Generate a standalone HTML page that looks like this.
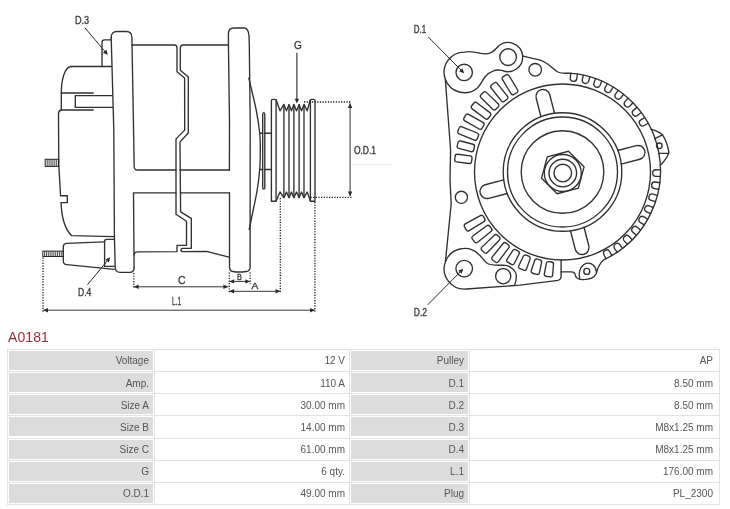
<!DOCTYPE html>
<html><head><meta charset="utf-8">
<style>
html,body{margin:0;padding:0;background:#fff;}
body{width:730px;height:509px;position:relative;overflow:hidden;font-family:"Liberation Sans",sans-serif;}
svg{position:absolute;left:0;top:0;will-change:transform;}
.wc{will-change:transform;}
.title{position:absolute;left:8px;top:329px;font-size:14px;color:#93303f;letter-spacing:0.1px;}
.g{position:absolute;background:#dcdcdc;}
.hl{position:absolute;height:1px;background:#e2e2e2;}
.vl{position:absolute;width:1px;background:#e2e2e2;}
.t{position:absolute;font-size:10px;line-height:19px;color:#555;white-space:nowrap;}
</style></head><body>
<svg width="730" height="509" viewBox="0 0 730 509">
<path d="M111.2,66.5 L70.6,66.5 C64.5,67.5 61.3,80 61.3,93 L93.2,93" fill="none" stroke="#303030" stroke-width="1.35" stroke-linejoin="round" stroke-linecap="round" />
<path d="M61.3,93 L61.3,110 L93.2,110" fill="none" stroke="#303030" stroke-width="1.35" stroke-linejoin="round" stroke-linecap="round" />
<path d="M112,95.6 L75.3,95.6 L75.3,107.4 L112.5,107.4" fill="none" stroke="#303030" stroke-width="1.35" stroke-linejoin="round" stroke-linecap="round" />
<path d="M61.3,110 Q58.6,110.5 58.5,113.5 L58.8,165 L60.4,193 L60.6,195.7 L67.3,195.7 L67.3,202.6 L61,202.6 C61.5,215 64,228 71.5,235.6 L113.8,236.6" fill="none" stroke="#303030" stroke-width="1.35" stroke-linejoin="round" stroke-linecap="round" />
<rect x="45.2" y="159.3" width="13.4" height="7.1" fill="none" stroke="#222" stroke-width="1"/>
<line x1="47.20" y1="159.50" x2="47.20" y2="166.20" stroke="#333" stroke-width="0.9" />
<line x1="49.10" y1="159.50" x2="49.10" y2="166.20" stroke="#333" stroke-width="0.9" />
<line x1="51.00" y1="159.50" x2="51.00" y2="166.20" stroke="#333" stroke-width="0.9" />
<line x1="52.90" y1="159.50" x2="52.90" y2="166.20" stroke="#333" stroke-width="0.9" />
<line x1="54.80" y1="159.50" x2="54.80" y2="166.20" stroke="#333" stroke-width="0.9" />
<line x1="56.70" y1="159.50" x2="56.70" y2="166.20" stroke="#333" stroke-width="0.9" />
<path d="M111,39.8 L104.5,39.8 Q102,39.8 102,42.3 L102,66.5" fill="none" stroke="#303030" stroke-width="1.35" stroke-linejoin="round" stroke-linecap="round" />
<path d="M111.2,38 Q111,31.5 117,31.5 L126.5,31.5 Q131.8,31.5 131.9,37.5 L134.2,166.5 Q134.3,170 137.5,170 L176,170" fill="none" stroke="#303030" stroke-width="1.35" stroke-linejoin="round" stroke-linecap="round" />
<path d="M111.2,38 L113.8,130 L114.4,236 L115.2,267.5 Q115.5,272.3 120,272.3 L129.5,272.3 Q134.1,272.3 134.1,268" fill="none" stroke="#303030" stroke-width="1.35" stroke-linejoin="round" stroke-linecap="round" />
<path d="M176,192.8 L133.5,192.8 L134.1,268" fill="none" stroke="#303030" stroke-width="1.35" stroke-linejoin="round" stroke-linecap="round" />
<path d="M131.9,45 L174.5,45 Q177.0,45 177.0,48 L177.0,71.8 L184.6,78.1 L184.7,130.1 L176,138.9 L176,214.2 L186.5,221.2 L186.5,245.4 L177,245.4 L177,251.6 L137.5,251.8 Q134.1,252 134.1,255" fill="none" stroke="#303030" stroke-width="1.35" stroke-linejoin="round" stroke-linecap="round" />
<path d="M228.4,45 L183.2,45 Q180.3,45 180.3,48 L180.3,70.3 L188.3,76.9 L188.3,133 L180,141.9 L180.6,211.8 L191.3,218.3 L191.3,248.3 L183,248.3 Q181,248.3 181,250 Q181,251.6 183,251.6 L206.6,251.4 L229.1,257.2" fill="none" stroke="#303030" stroke-width="1.35" stroke-linejoin="round" stroke-linecap="round" />
<path d="M180,170 L229.4,170" fill="none" stroke="#303030" stroke-width="1.35" stroke-linejoin="round" stroke-linecap="round" />
<path d="M180.3,192.8 L229.5,192.8" fill="none" stroke="#303030" stroke-width="1.35" stroke-linejoin="round" stroke-linecap="round" />
<path d="M229.4,170 L229.5,122 L228.5,50 L228.4,33.5 Q228.5,28 234,28 L244.5,28 Q248.5,28.5 249,36 L249.3,45 L250.2,122 L250.1,266.5 Q250.3,271.3 246,271.5 Q239,272.6 233,271.5 Q229.5,271.3 229.5,267 L229.5,192.8" fill="none" stroke="#303030" stroke-width="1.35" stroke-linejoin="round" stroke-linecap="round" />
<path d="M248.80,78.20 C250.03,83.50 254.38,100.87 256.20,110.00 C258.02,119.13 259.02,126.33 259.70,133.00 C260.38,139.67 260.30,143.92 260.30,150.00 C260.30,156.08 260.22,162.83 259.70,169.50 C259.18,176.17 258.28,183.25 257.20,190.00 C256.12,196.75 254.53,203.42 253.20,210.00 C251.87,216.58 249.87,226.25 249.20,229.50" fill="none" stroke="#303030" stroke-width="1.35" stroke-linejoin="round" stroke-linecap="round" />
<path d="M262.7,188 L262.7,114.5 Q262.7,112.6 263.75,112.6 Q264.8,112.6 264.8,114.5 L264.8,188 Q264.8,189 263.75,189 Q262.7,189 262.7,188" fill="none" stroke="#303030" stroke-width="1.35" stroke-linejoin="round" stroke-linecap="round" />
<path d="M259.9,133.2 L262.7,133.2" fill="none" stroke="#303030" stroke-width="1.35" stroke-linejoin="round" stroke-linecap="round" />
<path d="M264.8,133.2 L271.4,133.2" fill="none" stroke="#303030" stroke-width="1.35" stroke-linejoin="round" stroke-linecap="round" />
<path d="M259.9,169.5 L262.7,169.5" fill="none" stroke="#303030" stroke-width="1.35" stroke-linejoin="round" stroke-linecap="round" />
<path d="M264.8,169.5 L271.4,169.5" fill="none" stroke="#303030" stroke-width="1.35" stroke-linejoin="round" stroke-linecap="round" />
<path d="M271.4,201.2 L271.4,100.8 Q271.4,99.4 272.8,99.4 L274.7,99.4 Q276.1,99.4 276.1,100.8 L276.1,201.2 Z" fill="none" stroke="#303030" stroke-width="1.35" stroke-linejoin="round" stroke-linecap="round" />
<path d="M310.4,201.2 L310.4,100.8 Q310.4,99.4 311.8,99.4 L313.6,99.4 Q315,99.4 315,100.8 L315,201.2 Z" fill="none" stroke="#303030" stroke-width="1.35" stroke-linejoin="round" stroke-linecap="round" />
<path d="M276.1,99.8 L280.00,110.8 L283.90,104.4 L286.45,110.8 L289.00,104.4 L291.45,110.8 L293.90,104.4 L296.50,110.8 L299.10,104.4 L301.55,110.8 L304.00,104.4 L307.20,110.8 L310.4,99.8" fill="none" stroke="#303030" stroke-width="1.35" stroke-linejoin="round" stroke-linecap="round" />
<path d="M276.1,201.0 L280.00,192.0 L283.90,197.7 L286.45,192.0 L289.00,197.7 L291.45,192.0 L293.90,197.7 L296.50,192.0 L299.10,197.7 L301.55,192.0 L304.00,197.7 L307.20,192.0 L310.4,201.0" fill="none" stroke="#303030" stroke-width="1.35" stroke-linejoin="round" stroke-linecap="round" />
<line x1="283.90" y1="104.40" x2="283.90" y2="197.70" stroke="#303030" stroke-width="1.35" />
<line x1="289.00" y1="104.40" x2="289.00" y2="197.70" stroke="#303030" stroke-width="1.35" />
<line x1="293.90" y1="104.40" x2="293.90" y2="197.70" stroke="#303030" stroke-width="1.35" />
<line x1="299.10" y1="104.40" x2="299.10" y2="197.70" stroke="#303030" stroke-width="1.35" />
<line x1="304.00" y1="104.40" x2="304.00" y2="197.70" stroke="#303030" stroke-width="1.35" />
<rect x="42.8" y="251.1" width="20.5" height="5.4" fill="none" stroke="#222" stroke-width="1"/>
<line x1="44.60" y1="251.30" x2="44.60" y2="256.30" stroke="#333" stroke-width="0.9" />
<line x1="46.45" y1="251.30" x2="46.45" y2="256.30" stroke="#333" stroke-width="0.9" />
<line x1="48.30" y1="251.30" x2="48.30" y2="256.30" stroke="#333" stroke-width="0.9" />
<line x1="50.15" y1="251.30" x2="50.15" y2="256.30" stroke="#333" stroke-width="0.9" />
<line x1="52.00" y1="251.30" x2="52.00" y2="256.30" stroke="#333" stroke-width="0.9" />
<line x1="53.85" y1="251.30" x2="53.85" y2="256.30" stroke="#333" stroke-width="0.9" />
<line x1="55.70" y1="251.30" x2="55.70" y2="256.30" stroke="#333" stroke-width="0.9" />
<line x1="57.55" y1="251.30" x2="57.55" y2="256.30" stroke="#333" stroke-width="0.9" />
<line x1="59.40" y1="251.30" x2="59.40" y2="256.30" stroke="#333" stroke-width="0.9" />
<line x1="61.25" y1="251.30" x2="61.25" y2="256.30" stroke="#333" stroke-width="0.9" />
<path d="M104.3,241.8 L66.5,243.3 Q63.3,243.6 63.3,247 L63.3,261 Q63.3,264.4 67,264.7 L114.2,269.3" fill="none" stroke="#303030" stroke-width="1.35" stroke-linejoin="round" stroke-linecap="round" />
<path d="M104.6,266.3 L104.6,241.5 Q104.6,239.3 106.8,239.3 L114.2,239.3" fill="none" stroke="#303030" stroke-width="1.35" stroke-linejoin="round" stroke-linecap="round" />
<path d="M104.6,266.3 L114.3,266.3" fill="none" stroke="#303030" stroke-width="1.35" stroke-linejoin="round" stroke-linecap="round" />
<text x="74.9" y="23.5" font-family='"Liberation Sans", sans-serif' font-size="10.0" fill="#3c3c3c" stroke="#3c3c3c" stroke-width="0.35" textLength="14.2" lengthAdjust="spacingAndGlyphs">D.3</text>
<line x1="84.80" y1="27.70" x2="106.30" y2="53.00" stroke="#2a2a2a" stroke-width="1.0" />
<path d="M107.80,54.80 L102.94,52.63 L106.45,49.65 Z" fill="#2a2a2a" stroke="none"/>
<text x="78" y="296.4" font-family='"Liberation Sans", sans-serif' font-size="10.0" fill="#3c3c3c" stroke="#3c3c3c" stroke-width="0.35" textLength="13.3" lengthAdjust="spacingAndGlyphs">D.4</text>
<line x1="87.40" y1="284.80" x2="108.80" y2="259.00" stroke="#2a2a2a" stroke-width="1.0" />
<path d="M110.20,257.30 L108.91,262.46 L105.37,259.53 Z" fill="#2a2a2a" stroke="none"/>
<text x="293.9" y="48.9" font-family='"Liberation Sans", sans-serif' font-size="10.8" fill="#3c3c3c" stroke="#3c3c3c" stroke-width="0.35" textLength="7.8" lengthAdjust="spacingAndGlyphs">G</text>
<line x1="296.90" y1="52.80" x2="296.90" y2="99.00" stroke="#2a2a2a" stroke-width="1.1" />
<path d="M296.90,103.50 L294.70,98.70 L299.10,98.70 Z" fill="#2a2a2a" stroke="none"/>
<line x1="304.00" y1="102.00" x2="351.50" y2="102.00" stroke="#1a1a1a" stroke-width="1.3" stroke-dasharray="1.2 1.45"/>
<line x1="310.50" y1="197.40" x2="351.50" y2="197.40" stroke="#1a1a1a" stroke-width="1.3" stroke-dasharray="1.2 1.45"/>
<line x1="350.10" y1="103.20" x2="350.10" y2="196.20" stroke="#383838" stroke-width="1.0" />
<path d="M350.10,196.20 L347.90,191.40 L352.30,191.40 Z" fill="#2a2a2a" stroke="none"/>
<path d="M350.10,103.20 L352.30,108.00 L347.90,108.00 Z" fill="#2a2a2a" stroke="none"/>
<text x="353.9" y="153.6" font-family='"Liberation Sans", sans-serif' font-size="10.0" fill="#3c3c3c" stroke="#3c3c3c" stroke-width="0.35" textLength="22.2" lengthAdjust="spacingAndGlyphs">O.D.1</text>
<line x1="280.30" y1="198.00" x2="280.30" y2="293.50" stroke="#1a1a1a" stroke-width="1.3" stroke-dasharray="1.2 1.45"/>
<line x1="229.30" y1="291.30" x2="280.30" y2="291.30" stroke="#383838" stroke-width="1.0" />
<path d="M280.30,291.30 L275.50,293.50 L275.50,289.10 Z" fill="#2a2a2a" stroke="none"/>
<path d="M229.30,291.30 L234.10,289.10 L234.10,293.50 Z" fill="#2a2a2a" stroke="none"/>
<text x="251.5" y="289.0" font-family='"Liberation Sans", sans-serif' font-size="9.0" fill="#3c3c3c" stroke="#3c3c3c" stroke-width="0.35" textLength="6.8" lengthAdjust="spacingAndGlyphs">A</text>
<line x1="229.30" y1="272.50" x2="229.30" y2="293.50" stroke="#1a1a1a" stroke-width="1.3" stroke-dasharray="1.2 1.45"/>
<line x1="250.10" y1="272.50" x2="250.10" y2="283.80" stroke="#1a1a1a" stroke-width="1.3" stroke-dasharray="1.2 1.45"/>
<line x1="229.30" y1="281.40" x2="250.10" y2="281.40" stroke="#383838" stroke-width="1.0" />
<path d="M250.10,281.40 L245.30,283.60 L245.30,279.20 Z" fill="#2a2a2a" stroke="none"/>
<path d="M229.30,281.40 L234.10,279.20 L234.10,283.60 Z" fill="#2a2a2a" stroke="none"/>
<text x="237.1" y="279.6" font-family='"Liberation Sans", sans-serif' font-size="8.8" fill="#3c3c3c" stroke="#3c3c3c" stroke-width="0.35" textLength="4.9" lengthAdjust="spacingAndGlyphs">B</text>
<line x1="133.80" y1="273.00" x2="133.80" y2="289.00" stroke="#1a1a1a" stroke-width="1.3" stroke-dasharray="1.2 1.45"/>
<line x1="133.80" y1="286.80" x2="228.20" y2="286.80" stroke="#383838" stroke-width="1.0" />
<path d="M228.20,286.80 L223.40,289.00 L223.40,284.60 Z" fill="#2a2a2a" stroke="none"/>
<path d="M133.80,286.80 L138.60,284.60 L138.60,289.00 Z" fill="#2a2a2a" stroke="none"/>
<text x="178.0" y="284.0" font-family='"Liberation Sans", sans-serif' font-size="10.6" fill="#3c3c3c" stroke="#3c3c3c" stroke-width="0.35" textLength="7.5" lengthAdjust="spacingAndGlyphs">C</text>
<line x1="43.00" y1="257.50" x2="43.00" y2="312.00" stroke="#1a1a1a" stroke-width="1.3" stroke-dasharray="1.2 1.45"/>
<line x1="314.90" y1="202.00" x2="314.90" y2="312.00" stroke="#1a1a1a" stroke-width="1.3" stroke-dasharray="1.2 1.45"/>
<line x1="43.20" y1="310.20" x2="314.90" y2="310.20" stroke="#383838" stroke-width="1.0" />
<path d="M314.90,310.20 L310.10,312.40 L310.10,308.00 Z" fill="#2a2a2a" stroke="none"/>
<path d="M43.20,310.20 L48.00,308.00 L48.00,312.40 Z" fill="#2a2a2a" stroke="none"/>
<text x="172.1" y="305.2" font-family='"Liberation Sans", sans-serif' font-size="10.6" fill="#3c3c3c" stroke="#3c3c3c" stroke-width="0.35" textLength="8.9" lengthAdjust="spacingAndGlyphs">L.1</text>
<path d="M445.32,79.34 A20.3,20.3 0 0 1 464.5,52.1 C469,51.0 476,52.2 481,53.4 C485,54.2 488.5,53.8 491,52.6 C494,51 496.5,48.5 498.3,46.25 A14.6,14.6 0 0 1 522.6,55.8 C527,57.5 532,58 537.5,59.4 C541,60.3 543,61.2 545.3,62.5 C550,65 553,69.5 557.9,72 C561,73.3 564,73.6 568.82,73.10 A98.0,98.0 0 0 1 604.23,259.57 C600,263 597.5,268 596.3,273.5 C594,278.5 588,279.8 582,279.6 C577.5,279.5 575.5,277.5 575,274 Q574.5,271.9 571.5,271.9 L561.1,271.9 L561.1,276.5 Q561.1,280.2 556.2,280.7 L520,285.1 L466.27,289.02 A20.3,20.3 0 0 1 445.42,261.86 L451.2,203.5 L450,180 L450.6,150 Z" fill="none" stroke="#303030" stroke-width="1.35" stroke-linejoin="round" stroke-linecap="round" />
<path d="M445.32,79.34 A20.3,20.3 0 0 0 477.4,88.0 C480.5,85 482.5,80 485,77 C487.5,74 490.5,71.8 494,70.6 C496.5,69.8 499.5,70 501.9,70.3 A14.6,14.6 0 0 0 522.6,55.8" fill="none" stroke="#303030" stroke-width="1.35" stroke-linejoin="round" stroke-linecap="round" />
<path d="M445.42,261.86 A20.3,20.3 0 0 1 478.60,254.20 C481.5,256.5 484,261 487.5,263.5 C491,265.5 496,265.5 503.5,265.1 C510.5,265.3 516.8,271 516.3,277 C516.2,280 515.5,283 514.8,284.5" fill="none" stroke="#303030" stroke-width="1.35" stroke-linejoin="round" stroke-linecap="round" />
<circle cx="464.20" cy="72.40" r="8.20" fill="none" stroke="#303030" stroke-width="1.35"/>
<circle cx="508.10" cy="57.10" r="8.35" fill="none" stroke="#303030" stroke-width="1.35"/>
<circle cx="535.20" cy="69.80" r="6.30" fill="none" stroke="#303030" stroke-width="1.35"/>
<circle cx="461.40" cy="197.30" r="6.10" fill="none" stroke="#303030" stroke-width="1.35"/>
<circle cx="464.20" cy="268.60" r="8.30" fill="none" stroke="#303030" stroke-width="1.35"/>
<circle cx="503.20" cy="276.20" r="7.60" fill="none" stroke="#303030" stroke-width="1.35"/>
<path d="M579.7,278.5 C578,273 580,266 586,263.4 C591.5,262 596,266 596.4,272" fill="none" stroke="#303030" stroke-width="1.35" stroke-linejoin="round" stroke-linecap="round" />
<circle cx="586.80" cy="271.40" r="3.00" fill="none" stroke="#303030" stroke-width="1.35"/>
<path d="M561.1,259.8 L561.1,272" fill="none" stroke="#303030" stroke-width="1.35" stroke-linejoin="round" stroke-linecap="round" />
<path d="M651,129.1 C656,130.5 660,132.5 662.5,134.8 C666,140 668,147 668.9,152.1 C668,157 664,161.5 660.6,164.9" fill="none" stroke="#303030" stroke-width="1.35" stroke-linejoin="round" stroke-linecap="round" />
<path d="M654.8,138.7 L662.5,134.8" fill="none" stroke="#303030" stroke-width="1.35" stroke-linejoin="round" stroke-linecap="round" />
<path d="M658.7,153.4 L668.5,153.4" fill="none" stroke="#303030" stroke-width="1.35" stroke-linejoin="round" stroke-linecap="round" />
<circle cx="659.30" cy="145.80" r="2.80" fill="none" stroke="#303030" stroke-width="1.35"/>
<circle cx="562.50" cy="172.00" r="88.00" fill="none" stroke="#303030" stroke-width="1.35"/>
<circle cx="562.50" cy="172.00" r="59.30" fill="none" stroke="#303030" stroke-width="1.35"/>
<circle cx="562.50" cy="172.00" r="55.00" fill="none" stroke="#303030" stroke-width="1.35"/>
<circle cx="562.50" cy="172.00" r="41.30" fill="none" stroke="#303030" stroke-width="1.35"/>
<path d="M568.49,151.25 L584.05,166.81 L578.36,188.06 L557.11,193.75 L541.55,178.19 L547.24,156.94 Z" fill="none" stroke="#303030" stroke-width="1.35" stroke-linejoin="round" stroke-linecap="round" />
<circle cx="562.80" cy="173.00" r="18.50" fill="none" stroke="#303030" stroke-width="1.35"/>
<circle cx="562.80" cy="173.00" r="13.80" fill="none" stroke="#303030" stroke-width="1.35"/>
<circle cx="562.80" cy="173.00" r="8.80" fill="none" stroke="#303030" stroke-width="1.35"/>
<path d="M554.53,113.24 L549.75,94.73 A7.0,7.0 0 0 0 536.19,98.24 L540.98,116.74" fill="none" stroke="#303030" stroke-width="1.35" stroke-linejoin="round" stroke-linecap="round" />
<path d="M621.26,164.03 L639.77,159.25 A7.0,7.0 0 0 0 636.26,145.69 L617.76,150.48" fill="none" stroke="#303030" stroke-width="1.35" stroke-linejoin="round" stroke-linecap="round" />
<path d="M570.47,230.76 L575.25,249.27 A7.0,7.0 0 0 0 588.81,245.76 L584.02,227.26" fill="none" stroke="#303030" stroke-width="1.35" stroke-linejoin="round" stroke-linecap="round" />
<path d="M503.74,179.97 L485.23,184.75 A7.0,7.0 0 0 0 488.74,198.31 L507.24,193.52" fill="none" stroke="#303030" stroke-width="1.35" stroke-linejoin="round" stroke-linecap="round" />
<path d="M577.37,74.04 L576.85,78.45 A3.3,3.3 0 0 1 570.29,77.67 L570.82,73.25" fill="none" stroke="#303030" stroke-width="1.35" stroke-linejoin="round" stroke-linecap="round" />
<path d="M589.81,76.78 L588.71,81.09 A3.3,3.3 0 0 1 582.32,79.46 L583.41,75.16" fill="none" stroke="#303030" stroke-width="1.35" stroke-linejoin="round" stroke-linecap="round" />
<path d="M601.78,81.12 L600.14,85.25 A3.3,3.3 0 0 1 594.01,82.81 L595.65,78.68" fill="none" stroke="#303030" stroke-width="1.35" stroke-linejoin="round" stroke-linecap="round" />
<path d="M613.09,86.97 L610.93,90.85 A3.3,3.3 0 0 1 605.16,87.63 L607.33,83.75" fill="none" stroke="#303030" stroke-width="1.35" stroke-linejoin="round" stroke-linecap="round" />
<path d="M623.55,94.24 L620.90,97.80 A3.3,3.3 0 0 1 615.60,93.87 L618.25,90.30" fill="none" stroke="#303030" stroke-width="1.35" stroke-linejoin="round" stroke-linecap="round" />
<path d="M632.97,102.80 L629.88,105.99 A3.3,3.3 0 0 1 625.14,101.40 L628.23,98.21" fill="none" stroke="#303030" stroke-width="1.35" stroke-linejoin="round" stroke-linecap="round" />
<path d="M641.21,112.51 L637.73,115.28 A3.3,3.3 0 0 1 633.62,110.11 L637.10,107.35" fill="none" stroke="#303030" stroke-width="1.35" stroke-linejoin="round" stroke-linecap="round" />
<path d="M648.11,123.21 L644.31,125.50 A3.3,3.3 0 0 1 640.90,119.85 L644.71,117.55" fill="none" stroke="#303030" stroke-width="1.35" stroke-linejoin="round" stroke-linecap="round" />
<path d="M660.34,176.42 L655.90,176.32 A3.3,3.3 0 0 1 656.05,169.72 L660.49,169.82" fill="none" stroke="#303030" stroke-width="1.35" stroke-linejoin="round" stroke-linecap="round" />
<path d="M658.77,189.23 L654.38,188.55 A3.3,3.3 0 0 1 655.39,182.02 L659.79,182.71" fill="none" stroke="#303030" stroke-width="1.35" stroke-linejoin="round" stroke-linecap="round" />
<path d="M655.53,201.72 L651.26,200.46 A3.3,3.3 0 0 1 653.13,194.13 L657.39,195.39" fill="none" stroke="#303030" stroke-width="1.35" stroke-linejoin="round" stroke-linecap="round" />
<path d="M650.67,213.68 L646.61,211.87 A3.3,3.3 0 0 1 649.29,205.84 L653.35,207.64" fill="none" stroke="#303030" stroke-width="1.35" stroke-linejoin="round" stroke-linecap="round" />
<path d="M644.29,224.89 L640.50,222.57 A3.3,3.3 0 0 1 643.95,216.94 L647.74,219.26" fill="none" stroke="#303030" stroke-width="1.35" stroke-linejoin="round" stroke-linecap="round" />
<path d="M636.48,235.17 L633.03,232.37 A3.3,3.3 0 0 1 637.19,227.24 L640.64,230.04" fill="none" stroke="#303030" stroke-width="1.35" stroke-linejoin="round" stroke-linecap="round" />
<path d="M627.40,244.33 L624.34,241.10 A3.3,3.3 0 0 1 629.14,236.57 L632.19,239.80" fill="none" stroke="#303030" stroke-width="1.35" stroke-linejoin="round" stroke-linecap="round" />
<path d="M617.19,252.22 L614.58,248.62 A3.3,3.3 0 0 1 619.93,244.75 L622.54,248.36" fill="none" stroke="#303030" stroke-width="1.35" stroke-linejoin="round" stroke-linecap="round" />
<path d="M606.03,258.70 L603.92,254.79 A3.3,3.3 0 0 1 609.73,251.66 L611.84,255.57" fill="none" stroke="#303030" stroke-width="1.35" stroke-linejoin="round" stroke-linecap="round" />
<path d="M516.75,92.75 Q518.63,91.61 517.50,89.73 L509.05,75.67 Q507.92,73.78 506.03,74.92 L503.29,76.56 Q501.40,77.70 502.54,79.58 L510.98,93.64 Q512.12,95.53 514.00,94.39 Z" fill="none" stroke="#303030" stroke-width="1.35" stroke-linejoin="round" stroke-linecap="round" />
<path d="M506.98,99.25 Q508.71,97.88 507.34,96.16 L497.17,83.30 Q495.80,81.57 494.08,82.94 L491.57,84.92 Q489.84,86.29 491.21,88.01 L501.38,100.87 Q502.75,102.60 504.47,101.24 Z" fill="none" stroke="#303030" stroke-width="1.35" stroke-linejoin="round" stroke-linecap="round" />
<path d="M498.13,106.95 Q499.67,105.38 498.09,103.84 L486.36,92.38 Q484.78,90.85 483.25,92.42 L481.01,94.71 Q479.47,96.29 481.05,97.82 L492.79,109.28 Q494.36,110.81 495.90,109.24 Z" fill="none" stroke="#303030" stroke-width="1.35" stroke-linejoin="round" stroke-linecap="round" />
<path d="M490.34,115.72 Q491.66,113.96 489.90,112.64 L476.80,102.78 Q475.04,101.46 473.72,103.22 L471.79,105.77 Q470.47,107.53 472.23,108.85 L485.33,118.71 Q487.09,120.03 488.42,118.28 Z" fill="none" stroke="#303030" stroke-width="1.35" stroke-linejoin="round" stroke-linecap="round" />
<path d="M483.73,125.41 Q484.82,123.50 482.91,122.41 L468.65,114.31 Q466.73,113.23 465.65,115.14 L464.07,117.92 Q462.98,119.83 464.89,120.92 L479.15,129.02 Q481.06,130.11 482.15,128.20 Z" fill="none" stroke="#303030" stroke-width="1.35" stroke-linejoin="round" stroke-linecap="round" />
<path d="M478.42,135.87 Q479.25,133.84 477.22,133.00 L462.04,126.79 Q460.00,125.96 459.17,128.00 L457.96,130.96 Q457.12,132.99 459.16,133.83 L474.34,140.04 Q476.37,140.87 477.21,138.83 Z" fill="none" stroke="#303030" stroke-width="1.35" stroke-linejoin="round" stroke-linecap="round" />
<path d="M474.49,146.93 Q475.05,144.80 472.93,144.23 L460.75,140.99 Q458.63,140.43 458.06,142.55 L457.24,145.65 Q456.67,147.77 458.80,148.34 L470.97,151.58 Q473.10,152.14 473.67,150.02 Z" fill="none" stroke="#303030" stroke-width="1.35" stroke-linejoin="round" stroke-linecap="round" />
<path d="M472.00,158.39 Q472.29,156.21 470.11,155.92 L457.62,154.27 Q455.44,153.98 455.15,156.16 L454.73,159.33 Q454.44,161.51 456.62,161.80 L469.11,163.46 Q471.29,163.74 471.58,161.56 Z" fill="none" stroke="#303030" stroke-width="1.35" stroke-linejoin="round" stroke-linecap="round" />
<path d="M548.90,261.68 Q546.72,261.39 546.31,263.55 L544.34,273.78 Q543.92,275.94 546.10,276.24 L550.26,276.81 Q552.44,277.11 552.62,274.91 L553.48,264.53 Q553.66,262.34 551.48,262.04 Z" fill="none" stroke="#303030" stroke-width="1.35" stroke-linejoin="round" stroke-linecap="round" />
<path d="M537.40,259.17 Q535.28,258.59 534.59,260.68 L531.31,270.57 Q530.62,272.66 532.74,273.24 L536.79,274.34 Q538.92,274.92 539.38,272.77 L541.57,262.58 Q542.04,260.43 539.91,259.85 Z" fill="none" stroke="#303030" stroke-width="1.35" stroke-linejoin="round" stroke-linecap="round" />
<path d="M526.33,255.19 Q524.30,254.34 523.34,256.32 L518.81,265.70 Q517.85,267.68 519.88,268.53 L523.76,270.15 Q525.79,271.00 526.53,268.93 L530.02,259.11 Q530.76,257.04 528.73,256.19 Z" fill="none" stroke="#303030" stroke-width="1.35" stroke-linejoin="round" stroke-linecap="round" />
<path d="M515.86,249.80 Q513.96,248.70 512.75,250.54 L507.04,259.26 Q505.84,261.10 507.74,262.20 L511.38,264.31 Q513.28,265.41 514.28,263.45 L519.01,254.17 Q520.01,252.21 518.11,251.11 Z" fill="none" stroke="#303030" stroke-width="1.35" stroke-linejoin="round" stroke-linecap="round" />
<path d="M506.18,243.11 Q504.44,241.77 503.06,243.48 L492.32,256.93 Q490.95,258.64 492.70,259.99 L495.39,262.06 Q497.13,263.40 498.44,261.63 L508.68,247.80 Q509.98,246.03 508.24,244.69 Z" fill="none" stroke="#303030" stroke-width="1.35" stroke-linejoin="round" stroke-linecap="round" />
<path d="M497.45,235.22 Q495.89,233.66 494.31,235.19 L481.92,247.12 Q480.33,248.65 481.89,250.21 L484.29,252.61 Q485.85,254.17 487.38,252.58 L499.31,240.19 Q500.84,238.61 499.28,237.05 Z" fill="none" stroke="#303030" stroke-width="1.35" stroke-linejoin="round" stroke-linecap="round" />
<path d="M489.81,226.26 Q488.47,224.52 486.70,225.82 L472.87,236.06 Q471.10,237.37 472.44,239.11 L474.51,241.80 Q475.86,243.55 477.57,242.18 L491.02,231.44 Q492.73,230.06 491.39,228.32 Z" fill="none" stroke="#303030" stroke-width="1.35" stroke-linejoin="round" stroke-linecap="round" />
<path d="M483.39,216.39 Q482.29,214.49 480.37,215.56 L465.33,223.91 Q463.41,224.98 464.51,226.88 L466.22,229.82 Q467.32,231.73 469.20,230.59 L483.92,221.68 Q485.80,220.54 484.70,218.64 Z" fill="none" stroke="#303030" stroke-width="1.35" stroke-linejoin="round" stroke-linecap="round" />
<text x="413.8" y="32.5" font-family='"Liberation Sans", sans-serif' font-size="10.0" fill="#3c3c3c" stroke="#3c3c3c" stroke-width="0.35" textLength="12.4" lengthAdjust="spacingAndGlyphs">D.1</text>
<line x1="428.30" y1="37.00" x2="462.50" y2="71.60" stroke="#2a2a2a" stroke-width="1.0" />
<path d="M464.20,73.30 L459.19,71.50 L462.46,68.27 Z" fill="#2a2a2a" stroke="none"/>
<text x="413.8" y="315.8" font-family='"Liberation Sans", sans-serif' font-size="10.0" fill="#3c3c3c" stroke="#3c3c3c" stroke-width="0.35" textLength="13.3" lengthAdjust="spacingAndGlyphs">D.2</text>
<line x1="427.60" y1="304.90" x2="461.80" y2="270.30" stroke="#2a2a2a" stroke-width="1.0" />
<path d="M463.30,268.80 L461.56,273.83 L458.29,270.60 Z" fill="#2a2a2a" stroke="none"/>
<rect x="352" y="163.9" width="40" height="1" fill="#ececec"/>
</svg>
<div class="title">A0181</div>
<div class="g" style="left:9px;top:351px;width:144px;height:19px"></div><div class="g" style="left:351px;top:351px;width:117px;height:19px"></div><div class="t" style="right:581px;top:351.40px">Voltage</div><div class="t" style="right:385px;top:351.40px">12 V</div><div class="t" style="right:266px;top:351.40px">Pulley</div><div class="t" style="right:17px;top:351.40px">AP</div><div class="g" style="left:9px;top:373px;width:144px;height:19px"></div><div class="g" style="left:351px;top:373px;width:117px;height:19px"></div><div class="t" style="right:581px;top:373.53px">Amp.</div><div class="t" style="right:385px;top:373.53px">110 A</div><div class="t" style="right:266px;top:373.53px">D.1</div><div class="t" style="right:17px;top:373.53px">8.50 mm</div><div class="g" style="left:9px;top:395px;width:144px;height:19px"></div><div class="g" style="left:351px;top:395px;width:117px;height:19px"></div><div class="t" style="right:581px;top:395.66px">Size A</div><div class="t" style="right:385px;top:395.66px">30.00 mm</div><div class="t" style="right:266px;top:395.66px">D.2</div><div class="t" style="right:17px;top:395.66px">8.50 mm</div><div class="g" style="left:9px;top:417px;width:144px;height:19px"></div><div class="g" style="left:351px;top:417px;width:117px;height:19px"></div><div class="t" style="right:581px;top:417.79px">Size B</div><div class="t" style="right:385px;top:417.79px">14.00 mm</div><div class="t" style="right:266px;top:417.79px">D.3</div><div class="t" style="right:17px;top:417.79px">M8x1.25 mm</div><div class="g" style="left:9px;top:440px;width:144px;height:19px"></div><div class="g" style="left:351px;top:440px;width:117px;height:19px"></div><div class="t" style="right:581px;top:439.92px">Size C</div><div class="t" style="right:385px;top:439.92px">61.00 mm</div><div class="t" style="right:266px;top:439.92px">D.4</div><div class="t" style="right:17px;top:439.92px">M8x1.25 mm</div><div class="g" style="left:9px;top:462px;width:144px;height:19px"></div><div class="g" style="left:351px;top:462px;width:117px;height:19px"></div><div class="t" style="right:581px;top:462.05px">G</div><div class="t" style="right:385px;top:462.05px">6 qty.</div><div class="t" style="right:266px;top:462.05px">L.1</div><div class="t" style="right:17px;top:462.05px">176.00 mm</div><div class="g" style="left:9px;top:484px;width:144px;height:19px"></div><div class="g" style="left:351px;top:484px;width:117px;height:19px"></div><div class="t" style="right:581px;top:484.18px">O.D.1</div><div class="t" style="right:385px;top:484.18px">49.00 mm</div><div class="t" style="right:266px;top:484.18px">Plug</div><div class="t" style="right:17px;top:484.18px">PL_2300</div><div class="hl" style="left:7px;top:349px;width:713px"></div><div class="hl" style="left:7px;top:371px;width:713px"></div><div class="hl" style="left:7px;top:393px;width:713px"></div><div class="hl" style="left:7px;top:415px;width:713px"></div><div class="hl" style="left:7px;top:438px;width:713px"></div><div class="hl" style="left:7px;top:460px;width:713px"></div><div class="hl" style="left:7px;top:482px;width:713px"></div><div class="hl" style="left:7px;top:504px;width:713px"></div><div class="vl" style="left:7px;top:349px;height:156px"></div><div class="vl" style="left:154px;top:349px;height:156px"></div><div class="vl" style="left:349px;top:349px;height:156px"></div><div class="vl" style="left:469px;top:349px;height:156px"></div><div class="vl" style="left:719px;top:349px;height:156px"></div>
</body></html>
